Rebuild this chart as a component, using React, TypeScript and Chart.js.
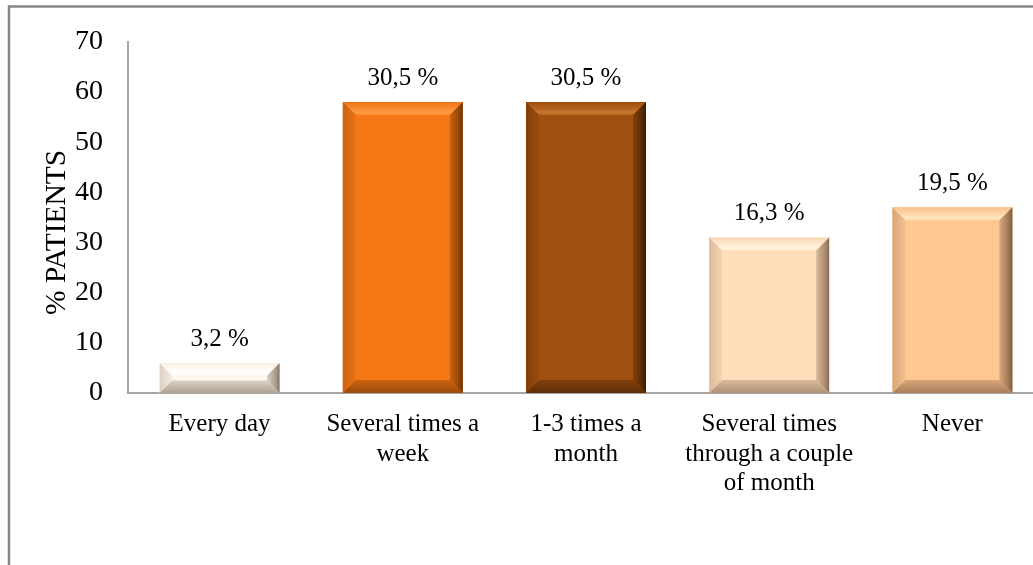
import React, { useEffect, useRef } from "react";
import { Chart, registerables } from "chart.js";

Chart.register(...registerables);

// Answer categories (multi-line labels)
const categories: string[][] = [
  ["Every day"],
  ["Several times a", "week"],
  ["1-3 times a", "month"],
  ["Several times", "through a couple", "of month"],
  ["Never"],
];

// Number of patients per answer
const patientCounts: number[] = [6, 58, 58, 31, 37];

// Y axis tick values
const yTicks: number[] = [0, 10, 20, 30, 40, 50, 60, 70];

// Bar face colours and bevel shading colours
const faceColors: string[] = ["#FEF7EB", "#F47816", "#A1500F", "#FEDDBB", "#FFC794"];
const lightColors: string[] = ["#FFFFFF", "#FB9B45", "#C8772F", "#FFF4DE", "#FFE6BE"];
const darkColors: string[] = ["#857464", "#6A3204", "#3A1B02", "#85684F", "#7A583D"];

const totalPatients = patientCounts.reduce((a, b) => a + b, 0);
const percentLabels = patientCounts.map(
  (c) => ((c / totalPatients) * 100).toFixed(1).replace(".", ",") + " %"
);

const SERIF = "'Liberation Serif', 'Times New Roman', serif";

function hexToRgb(h: string): number[] {
  const v = parseInt(h.slice(1), 16);
  return [(v >> 16) & 255, (v >> 8) & 255, v & 255];
}
function mix(a: string, b: string, t: number): string {
  const A = hexToRgb(a);
  const B = hexToRgb(b);
  const r = A.map((v, i) => Math.round(v + (B[i] - v) * t));
  return `rgb(${r[0]},${r[1]},${r[2]})`;
}

// Outer frame of the chart
const framePlugin = {
  id: "frame",
  beforeDraw(chart: any) {
    const ctx = chart.ctx;
    ctx.save();
    ctx.strokeStyle = "#878787";
    ctx.lineWidth = 2.5;
    ctx.beginPath();
    ctx.moveTo(9, chart.height + 5);
    ctx.lineTo(9, 6.5);
    ctx.lineTo(chart.width + 5, 6.5);
    ctx.stroke();
    ctx.restore();
  },
};

// Bevelled bar faces
const bevelPlugin = {
  id: "bevel",
  afterDatasetsDraw(chart: any) {
    const ctx = chart.ctx;
    const meta = chart.getDatasetMeta(0);
    meta.data.forEach((bar: any, i: number) => {
      const x0 = bar.x - bar.width / 2;
      const x1 = bar.x + bar.width / 2;
      const y0 = Math.min(bar.y, bar.base);
      const y1 = Math.max(bar.y, bar.base);
      const h = y1 - y0;
      const b = Math.min(13, h / 2.4);
      const face = faceColors[i];
      const light = lightColors[i];
      const dark = darkColors[i];
      ctx.save();

      // top bevel
      let g = ctx.createLinearGradient(0, y0, 0, y0 + b);
      g.addColorStop(0, mix(face, dark, 0.05));
      g.addColorStop(0.5, mix(face, light, 0.5));
      g.addColorStop(0.78, light);
      g.addColorStop(1, mix(light, face, 0.4));
      ctx.fillStyle = g;
      ctx.beginPath();
      ctx.moveTo(x0, y0);
      ctx.lineTo(x1, y0);
      ctx.lineTo(x1 - b, y0 + b);
      ctx.lineTo(x0 + b, y0 + b);
      ctx.closePath();
      ctx.fill();

      // left bevel
      g = ctx.createLinearGradient(x0, 0, x0 + b, 0);
      g.addColorStop(0, mix(face, dark, 0.3));
      g.addColorStop(1, mix(face, dark, 0.08));
      ctx.fillStyle = g;
      ctx.beginPath();
      ctx.moveTo(x0, y0);
      ctx.lineTo(x0 + b, y0 + b);
      ctx.lineTo(x0 + b, y1 - b);
      ctx.lineTo(x0, y1);
      ctx.closePath();
      ctx.fill();

      // right bevel
      g = ctx.createLinearGradient(x1 - b, 0, x1, 0);
      g.addColorStop(0, mix(face, dark, 0.3));
      g.addColorStop(0.7, mix(face, dark, 0.7));
      g.addColorStop(1, dark);
      ctx.fillStyle = g;
      ctx.beginPath();
      ctx.moveTo(x1, y0);
      ctx.lineTo(x1, y1);
      ctx.lineTo(x1 - b, y1 - b);
      ctx.lineTo(x1 - b, y0 + b);
      ctx.closePath();
      ctx.fill();

      // bottom bevel
      g = ctx.createLinearGradient(0, y1 - b, 0, y1);
      g.addColorStop(0, mix(face, dark, 0.3));
      g.addColorStop(1, mix(face, dark, 0.65));
      ctx.fillStyle = g;
      ctx.beginPath();
      ctx.moveTo(x0, y1);
      ctx.lineTo(x1, y1);
      ctx.lineTo(x1 - b, y1 - b);
      ctx.lineTo(x0 + b, y1 - b);
      ctx.closePath();
      ctx.fill();

      ctx.restore();
    });
  },
};

// Percentage labels above bars and the rotated y axis title
const labelPlugin = {
  id: "valueLabels",
  afterDraw(chart: any) {
    const ctx = chart.ctx;
    const meta = chart.getDatasetMeta(0);
    ctx.save();
    ctx.fillStyle = "#000";
    ctx.font = `25px ${SERIF}`;
    ctx.textAlign = "center";
    ctx.textBaseline = "alphabetic";
    meta.data.forEach((bar: any, i: number) => {
      ctx.fillText(percentLabels[i], bar.x, bar.y - 17);
    });
    ctx.font = `29.5px ${SERIF}`;
    ctx.translate(57, (chart.chartArea.top + chart.chartArea.bottom) / 2 + 15);
    ctx.rotate(-Math.PI / 2);
    ctx.textBaseline = "middle";
    ctx.fillText("% PATIENTS", 0, 0);
    ctx.restore();
  },
};

export default function App() {
  const canvasRef = useRef<HTMLCanvasElement | null>(null);

  useEffect(() => {
    const canvas = canvasRef.current;
    if (!canvas) return;
    const chart = new Chart(canvas, {
      type: "bar",
      data: {
        labels: categories,
        datasets: [
          {
            data: patientCounts,
            backgroundColor: faceColors,
            borderWidth: 0,
            barPercentage: 0.655,
            categoryPercentage: 1,
          },
        ],
      },
      options: {
        responsive: false,
        animation: false,
        layout: { padding: { left: 0, right: 8, top: 40, bottom: 0 } },
        plugins: {
          legend: { display: false },
          tooltip: { enabled: false },
          title: { display: false },
        },
        scales: {
          x: {
            grid: { display: false, drawTicks: false },
            border: { display: true, color: "#A5A5A5", width: 2 },
            ticks: {
              color: "#000",
              font: { family: SERIF, size: 25, lineHeight: 1.18 },
              padding: 17,
              maxRotation: 0,
              autoSkip: false,
            },
            afterFit(scale: any) {
              scale.height = 565 - 393;
            },
          },
          y: {
            min: 0,
            max: yTicks[yTicks.length - 1],
            grid: { display: false, drawTicks: false },
            border: { display: true, color: "#A5A5A5", width: 2 },
            ticks: {
              stepSize: yTicks[1] - yTicks[0],
              color: "#000",
              font: { family: SERIF, size: 28 },
              padding: 25,
            },
            afterFit(scale: any) {
              scale.width = 128;
            },
          },
        },
      },
      plugins: [framePlugin, bevelPlugin, labelPlugin],
    });
    return () => chart.destroy();
  }, []);

  return (
    <div
      style={{
        position: "absolute",
        left: 0,
        top: 0,
        width: 1033,
        height: 565,
        overflow: "hidden",
        background: "#fff",
      }}
    >
      <canvas ref={canvasRef} width={1052} height={565} style={{ display: "block", width: 1052, height: 565 }} />
    </div>
  );
}
